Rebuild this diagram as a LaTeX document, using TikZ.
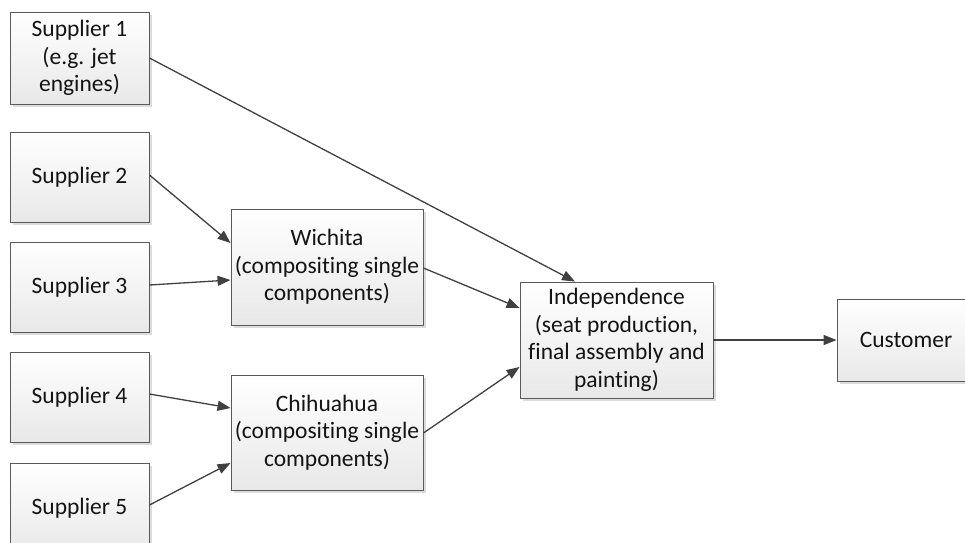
\documentclass[tikz,border=0pt]{standalone}
\usepackage{fontspec}
\setmainfont{Carlito}[RawFeature={-liga}]
\usetikzlibrary{arrows.meta,shadows}
\definecolor{edgegray}{HTML}{404040}
\definecolor{boxline}{HTML}{5A5A5A}
\tikzset{
  block/.style={draw=boxline, line width=0.9pt, rectangle, align=center,
    top color=white, bottom color=black!9,
    drop shadow={shadow xshift=3pt, shadow yshift=-3pt, fill=black!30, opacity=0.45},
    font=\fontsize{23.5}{27.7}\selectfont, text=black!92, inner sep=2pt},
  flow/.style={draw=edgegray, line width=1.3pt,
    -{Triangle[length=13pt,width=10pt]}}
}
\begin{document}
\begin{tikzpicture}[x=1pt,y=-1pt]
\useasboundingbox (0,0) rectangle (965,542);
% supplier column
\node[block, minimum width=139pt, minimum height=92pt] (s1) at (79.5,58) {Supplier 1\\(e.g. jet\\engines)};
\node[block, minimum width=139pt, minimum height=90pt] (s2) at (79.5,177) {Supplier 2};
\node[block, minimum width=139pt, minimum height=90pt] (s3) at (79.5,287) {Supplier 3};
\node[block, minimum width=139pt, minimum height=90pt] (s4) at (79.5,397) {Supplier 4};
\node[block, minimum width=139pt, minimum height=90pt] (s5) at (79.5,508) {Supplier 5};
% plants
\node[block, minimum width=192pt, minimum height=116pt] (wich) at (327,267) {Wichita\\(compositing single\\components)};
\node[block, minimum width=192pt, minimum height=115pt] (chi) at (327,432.5) {Chihuahua\\(compositing single\\components)};
\node[block, minimum width=193pt, minimum height=116pt] (ind) at (616.5,340) {Independence\\(seat production,\\final assembly and\\painting)};
\node[block, minimum width=138pt, minimum height=82pt] (cust) at (906,340) {Customer};
% material flow
\draw[flow] (s1.east) -- ([xshift=-41.5pt]ind.north);
\draw[flow] ([yshift=2pt]s2.east) -- ([yshift=24pt]wich.west);
\draw[flow] ([yshift=2pt]s3.east) -- ([yshift=-13pt]wich.west);
\draw[flow] ([yshift=3pt]s4.east) -- ([yshift=24.5pt]chi.west);
\draw[flow] ([yshift=3pt]s5.east) -- ([yshift=-30.5pt]chi.west);
\draw[flow] ([yshift=-1pt]wich.east) -- ([yshift=32pt]ind.west);
\draw[flow] ([yshift=-0.5pt]chi.east) -- ([yshift=-27pt]ind.west);
\draw[flow] (ind.east) -- (cust.west);
\end{tikzpicture}
\end{document}
